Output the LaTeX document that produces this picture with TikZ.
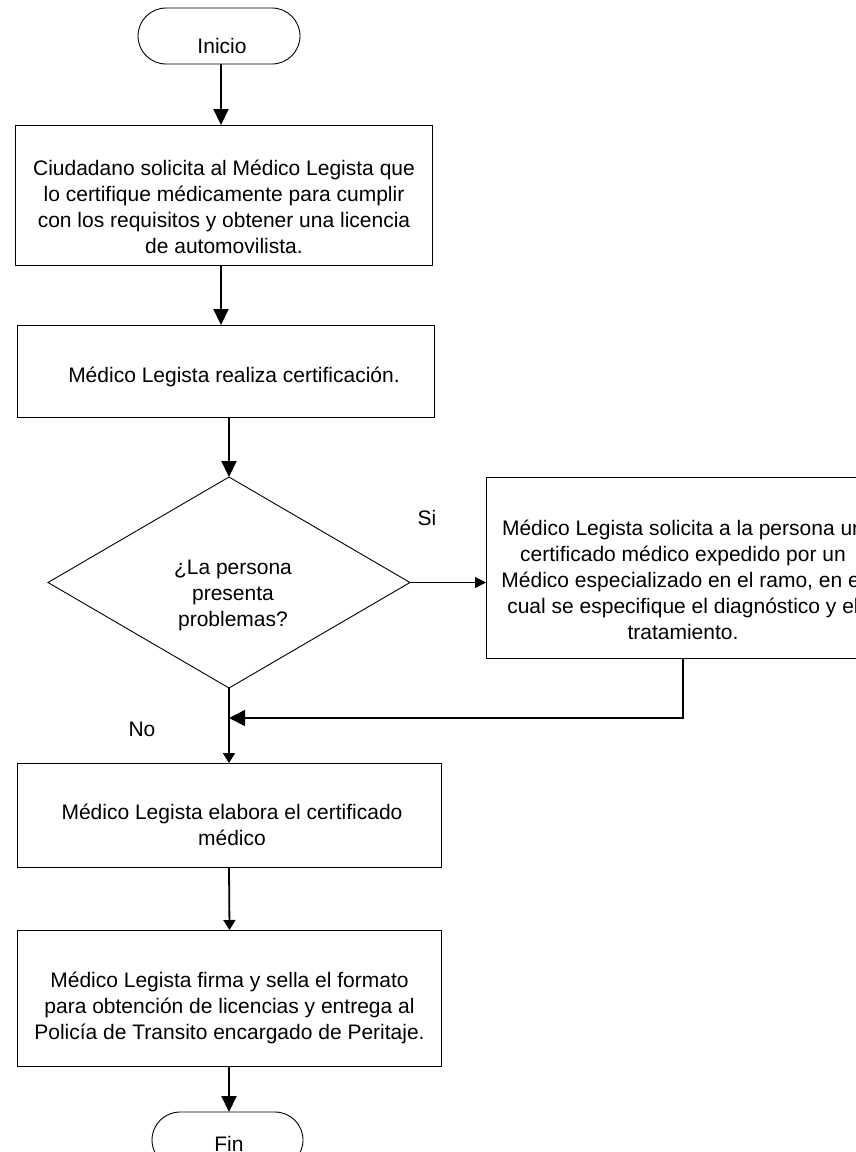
\documentclass[tikz,border=0pt]{standalone}
\usepackage{fontspec}
\setmainfont{Liberation Sans}
\usetikzlibrary{shapes.geometric,arrows.meta}
\begin{document}
\begin{tikzpicture}[x=1pt,y=-1pt,
  every node/.style={inner sep=0pt,outer sep=0pt},
  box/.style={draw,line width=0.9pt,rectangle},
  term/.style={draw,line width=0.9pt,rectangle,rounded corners=28pt},
  dec/.style={draw,line width=0.9pt,diamond,aspect=1.716},
  txt/.style={align=center,font=\fontsize{21}{26}\selectfont},
  flow/.style={line width=2pt,-{Triangle[length=16pt,width=15pt]}},
  flowsmall/.style={line width=1.8pt,-{Triangle[length=10pt,width=12pt]}},
  flowthin/.style={line width=1.2pt,-{Triangle[length=11pt,width=11pt]}}]
\useasboundingbox (0,0) rectangle (856,1152);
\clip (0,0) rectangle (856,1152);

% shapes
\node[term,minimum width=162pt,minimum height=56pt] (start) at (219,36) {};
\node[box,minimum width=417pt,minimum height=140pt] (b1) at (223.5,195) {};
\node[box,minimum width=417pt,minimum height=92pt] (b2) at (225.5,371) {};
\node[dec,minimum width=362pt,minimum height=211pt] (d) at (229,582.5) {};
\node[box,minimum width=394pt,minimum height=181pt] (r) at (683,567.5) {};
\node[box,minimum width=424pt,minimum height=104pt] (b3) at (229,815) {};
\node[box,minimum width=424pt,minimum height=136pt] (b4) at (229.5,998) {};
\node[term,minimum width=151pt,minimum height=56pt] (fin) at (227.5,1140) {};

% texts
\node[txt] (tstart) at (222,46) {Inicio};
\node[txt] (t1) at (224,207) {Ciudadano solicita al Médico Legista que\\lo certifique médicamente para cumplir\\con los requisitos y obtener una licencia\\de automovilista.};
\node[txt] (t2) at (234,377) {Médico Legista realiza certificación.};
\node[txt] (td) at (233,595) {¿La persona\\presenta\\problemas?};
\node[txt] (tr) at (683,580) {Médico Legista solicita a la persona un\\certificado médico expedido por un\\Médico especializado en el ramo, en el\\cual se especifique el diagnóstico y el\\tratamiento.};
\node[txt] (t3) at (232,825) {Médico Legista elabora el certificado\\médico};
\node[txt] (t4) at (229.5,1008) {Médico Legista firma y sella el formato\\para obtención de licencias y entrega al\\Policía de Transito encargado de Peritaje.};
\node[txt] (tfin) at (229,1144) {Fin};
\node[txt] (si) at (427,518) {Si};
\node[txt] (no) at (142,729) {No};

% connectors
\coordinate (j) at (229,718);
\draw[flow] (start.south -| 221,0) -- (b1.north -| 221,0);
\draw[flow] (b1.south -| 221,0) -- (b2.north -| 221,0);
\draw[flow] (b2.south -| d.north) -- (d.north);
\draw[flowthin] (d.east) -- (d.east -| r.west);
\draw[line width=1.5pt,-{Triangle[length=16pt,width=16pt]}] (r.south) |- (j);
\draw[flowsmall] (d.south) -- (b3.north);
\draw[flowsmall] (b3.south) -- (b4.north);
\draw[flow] (b4.south -| d.south) -- (fin.north -| d.south);
\end{tikzpicture}
\end{document}
